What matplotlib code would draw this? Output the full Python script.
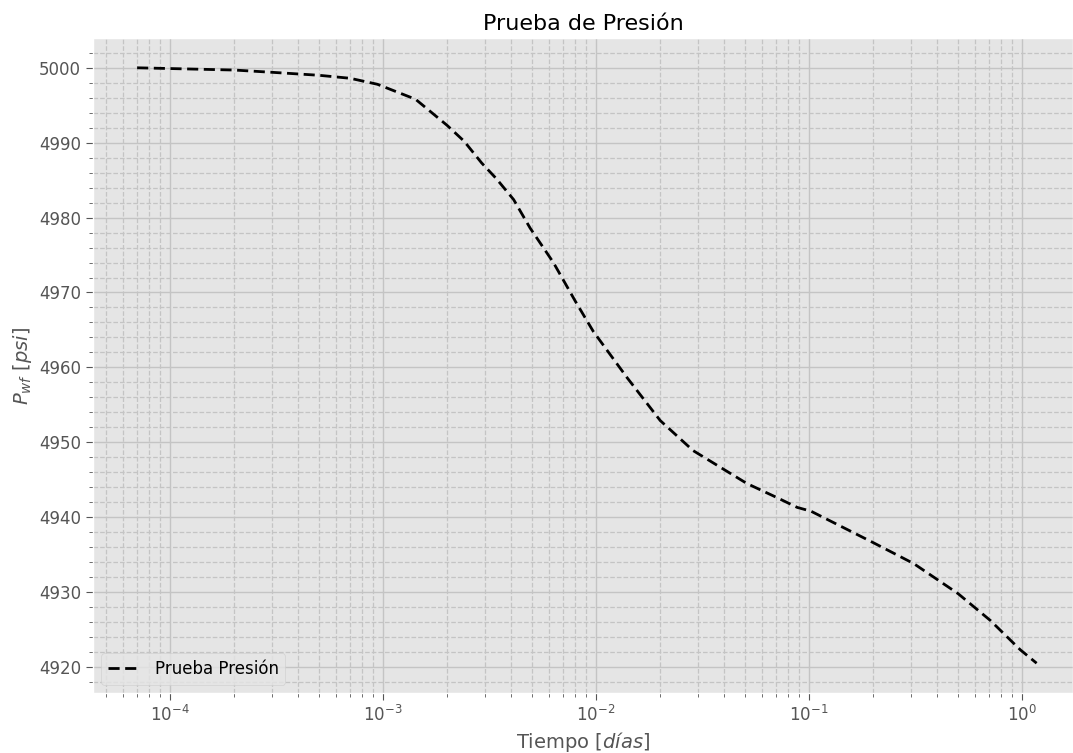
import numpy as np
import matplotlib
matplotlib.use("Agg")
import matplotlib.pyplot as plt
from matplotlib.ticker import AutoMinorLocator

# Pressure test readings (time in days, Pwf in psi)
tiempo = [7.0e-5, 1.0e-4, 2.0e-4, 3.0e-4, 5.0e-4, 7.0e-4, 9.4e-4, 1.42e-3,
          2.0e-3, 2.4e-3, 2.9e-3, 3.4e-3, 4.1e-3, 4.9e-3, 6.3e-3, 8.0e-3,
          9.7e-3, 0.014, 0.020, 0.0285, 0.051, 0.0708, 0.088, 0.102, 0.20,
          0.31, 0.50, 0.71, 0.98, 1.17]
presion = [5000.0, 4999.9, 4999.7, 4999.4, 4999.0, 4998.6, 4997.8, 4995.8,
           4992.3, 4990.2, 4987.3, 4985.2, 4982.4, 4978.6, 4974.0, 4968.8,
           4964.8, 4958.6, 4952.9, 4948.9, 4944.5, 4942.6, 4941.3, 4940.8,
           4936.6, 4933.8, 4929.8, 4926.2, 4922.3, 4920.5]

plt.style.use("ggplot")
fig = plt.figure(figsize=(10.73, 7.53), dpi=100)
ax = fig.add_axes([0.0867, 0.0797, 0.9133, 0.8698])

ax.plot(tiempo, presion, color="black", linestyle=(0, (4, 2)), linewidth=2,
        label="Prueba Presión")
ax.set_xscale("log")
ax.set_xlim(10 ** -4.362, 10 ** 0.239)
ax.yaxis.set_minor_locator(AutoMinorLocator(5))

ax.grid(True, which="major", color="#c4c4c4", linestyle="-", linewidth=1)
ax.grid(True, which="minor", color="#c4c4c4", linestyle="--", linewidth=0.9)

ax.tick_params(axis="both", which="major", labelsize=12, colors="#555555", length=5)
ax.tick_params(axis="both", which="minor", colors="#555555", length=3)

ax.set_title("Prueba de Presión", fontsize=16)
ax.set_xlabel(r"Tiempo $[días]$", fontsize=14, color="#555555")
ax.set_ylabel(r"$P_{wf}\ [psi]$", fontsize=14, color="#555555")
ax.legend(loc="lower left", fontsize=12)

fig.savefig("out.png", dpi=100)
